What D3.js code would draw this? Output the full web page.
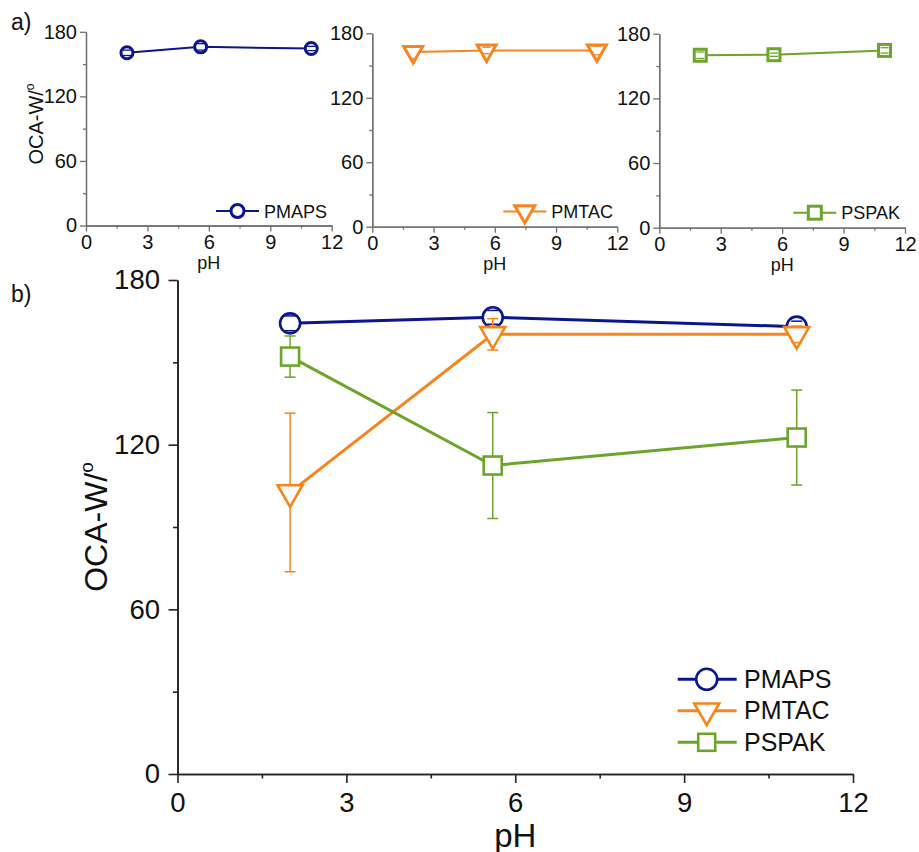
<!DOCTYPE html>
<html>
<head>
<meta charset="utf-8">
<script src="https://cdn.jsdelivr.net/npm/d3@7"></script>
<style>
  html, body { margin: 0; padding: 0; background: #fff; }
  svg { display: block; font-family: "Liberation Sans", Arial, sans-serif; }
</style>
</head>
<body>
<svg id="chart" width="919" height="852"></svg>
<script>
// ---- data ----
const pH = [2, 5.6, 11];
const seriesNames = ["PMAPS", "PMTAC", "PSPAK"];
const seriesColors = ["#0c168c", "#f7841e", "#6ca42c"];
const seriesSymbols = ["circle", "triangle", "square"];

// panel a) single-polymer measurements
const pmapsA = [160.5, 166, 164.5];
const pmapsAErr = [2.5, 3, 2];
const pmtacA = [162.5, 164, 164];
const pmtacAErr = [6, 3, 4];
const pspakA = [160, 160.5, 164.5];
const pspakAErr = [3, 1.5, 2.5];

// panel b) combined comparison
const pmapsB = [164.2, 166.4, 163.0];
const pmapsBErr = [2.7, 2.5, 2];
const pmtacB = [102.6, 160.2, 160.2];
const pmtacBErr = [28.9, 5.7, 3];
const pspakB = [152.1, 112.4, 122.6];
const pspakBErr = [7.5, 19.3, 17.3];

const xTicks = [0, 3, 6, 9, 12];
const xMinorTicks = [1.5, 4.5, 7.5, 10.5];
const yTicks = [0, 60, 120, 180];
const yMinorTicks = [30, 90, 150];

const svg = d3.select("#chart");
const FONT = "'Liberation Sans', Arial, sans-serif";

// draw one marker symbol centred on (cx, cy)
function marker(g, type, cx, cy, size, color, sw) {
  if (type === "circle") {
    g.append("circle").attr("cx", cx).attr("cy", cy).attr("r", size / 2)
      .attr("fill", "#fff").attr("stroke", color).attr("stroke-width", sw);
  } else if (type === "square") {
    g.append("rect").attr("x", cx - size / 2).attr("y", cy - size / 2)
      .attr("width", size).attr("height", size)
      .attr("fill", "#fff").attr("stroke", color).attr("stroke-width", sw);
  } else {
    // downward triangle with centroid at the data point
    const w = size, h = size * 0.866;
    const pts = [[cx - w / 2, cy - h / 3], [cx + w / 2, cy - h / 3], [cx, cy + 2 * h / 3]];
    g.append("polygon").attr("points", pts.map(p => p.join(",")).join(" "))
      .attr("fill", "#fff").attr("stroke", color).attr("stroke-width", sw)
      .attr("stroke-linejoin", "miter");
  }
}

// axes with major + minor ticks
function drawAxes(g, x, y, o) {
  const xa = g.append("g").attr("transform", `translate(0,${y.range()[0]})`)
    .call(d3.axisBottom(x).tickValues(xTicks).tickSize(o.major).tickSizeOuter(0)
      .tickPadding(o.xPad));
  const xm = g.append("g").attr("transform", `translate(0,${y.range()[0]})`)
    .call(d3.axisBottom(x).tickValues(xMinorTicks).tickSize(o.minor).tickSizeOuter(0)
      .tickFormat(""));
  const ya = g.append("g").attr("transform", `translate(${x.range()[0]},0)`)
    .call(d3.axisLeft(y).tickValues(yTicks).tickSize(o.major).tickSizeOuter(0)
      .tickPadding(o.yPad));
  const ym = g.append("g").attr("transform", `translate(${x.range()[0]},0)`)
    .call(d3.axisLeft(y).tickValues(yMinorTicks).tickSize(o.minor).tickSizeOuter(0)
      .tickFormat(""));
  [xa, xm, ya, ym].forEach(a => {
    a.selectAll("path, line").attr("stroke", o.axisColor).attr("stroke-width", o.axisWidth);
    a.selectAll("text").attr("font-family", FONT).attr("font-size", o.tickFont).attr("fill", "#111");
  });
}

// a series: connecting line, error bars, markers
function drawSeries(g, x, y, vals, errs, color, type, o) {
  const line = d3.line().x((d, i) => x(pH[i])).y(d => y(d));
  g.append("path").datum(vals).attr("d", line)
    .attr("fill", "none").attr("stroke", color).attr("stroke-width", o.lineWidth);
  const eb = g.append("g");
  vals.forEach((v, i) => {
    eb.append("line").attr("x1", x(pH[i])).attr("x2", x(pH[i]))
      .attr("y1", y(v + errs[i])).attr("y2", y(v - errs[i]))
      .attr("stroke", color).attr("stroke-width", o.errWidth);
  });
  vals.forEach((v, i) => marker(g, type, x(pH[i]), y(v), o.size[type], color, o.markerWidth));
  const caps = g.append("g");
  vals.forEach((v, i) => {
    [v + errs[i], v - errs[i]].forEach(e => {
      caps.append("line").attr("x1", x(pH[i]) - o.cap / 2).attr("x2", x(pH[i]) + o.cap / 2)
        .attr("y1", y(e)).attr("y2", y(e))
        .attr("stroke", color).attr("stroke-width", o.errWidth);
    });
  });
}

// ---- panel a) three small charts ----
const smallOpts = {
  major: 6, minor: 3, xPad: 3, yPad: 3, axisColor: "#707070", axisWidth: 1.3, tickFont: 20,
  lineWidth: 2, errWidth: 1.3, markerWidth: 3, cap: 8,
  size: { circle: 12, triangle: 19, square: 12 }
};
const panels = [
  { x0: 86, x1: 331.7, y0: 225.5, y1: 31.8, vals: pmapsA, errs: pmapsAErr, legX: 216, legY: 211 },
  { x0: 372.3, x1: 617.3, y0: 226.7, y1: 33.3, vals: pmtacA, errs: pmtacAErr, legX: 503.3, legY: 211.5 },
  { x0: 659.3, x1: 905, y0: 227.7, y1: 33.7, vals: pspakA, errs: pspakAErr, legX: 793.3, legY: 212.7 }
];
panels.forEach((p, k) => {
  const g = svg.append("g");
  const x = d3.scaleLinear().domain([0, 12]).range([p.x0, p.x1]);
  const y = d3.scaleLinear().domain([0, 180]).range([p.y0, p.y1]);
  drawAxes(g, x, y, smallOpts);
  drawSeries(g, x, y, p.vals, p.errs, seriesColors[k], seriesSymbols[k], smallOpts);
  g.append("text").attr("x", (p.x0 + p.x1) / 2).attr("y", p.y0 + 43)
    .attr("text-anchor", "middle").attr("font-family", FONT).attr("font-size", 18)
    .attr("fill", "#111").text("pH");
  // legend
  const lg = g.append("g");
  lg.append("line").attr("x1", p.legX).attr("x2", p.legX + 43)
    .attr("y1", p.legY).attr("y2", p.legY)
    .attr("stroke", seriesColors[k]).attr("stroke-width", 2);
  marker(lg, seriesSymbols[k], p.legX + 21.5, p.legY, smallOpts.size[seriesSymbols[k]] + 1, seriesColors[k], 3);
  lg.append("text").attr("x", p.legX + 48).attr("y", p.legY + 6.5)
    .attr("font-family", FONT).attr("font-size", 18).attr("fill", "#111")
    .text(seriesNames[k]);
});
// y title for panel a)
const ytA = svg.append("text").attr("transform", "translate(43,124) rotate(-90)")
  .attr("text-anchor", "middle").attr("font-family", FONT).attr("font-size", 20).attr("fill", "#111");
ytA.append("tspan").text("OCA-W/");
ytA.append("tspan").attr("font-size", 12).attr("dy", -9).text("o");

svg.append("text").attr("x", 11).attr("y", 30).attr("font-family", FONT)
  .attr("font-size", 23).attr("fill", "#111").text("a)");

// ---- panel b) combined chart ----
const bigOpts = {
  major: 9, minor: 4.5, xPad: 9.5, yPad: 8.5, axisColor: "#222", axisWidth: 1.6, tickFont: 27.5,
  lineWidth: 3, errWidth: 1.5, markerWidth: 2.6, cap: 11,
  size: { circle: 20, triangle: 25, square: 18 }
};
const gB = svg.append("g");
const xB = d3.scaleLinear().domain([0, 12]).range([177.5, 853]);
const yB = d3.scaleLinear().domain([0, 180]).range([774, 280]);
drawAxes(gB, xB, yB, bigOpts);
const bVals = [pmapsB, pmtacB, pspakB];
const bErrs = [pmapsBErr, pmtacBErr, pspakBErr];
bVals.forEach((v, k) => drawSeries(gB, xB, yB, v, bErrs[k], seriesColors[k], seriesSymbols[k], bigOpts));

gB.append("text").attr("x", (177.5 + 853) / 2).attr("y", 846.5)
  .attr("text-anchor", "middle").attr("font-family", FONT).attr("font-size", 33)
  .attr("fill", "#111").text("pH");
const ytB = gB.append("text").attr("transform", "translate(107,527) rotate(-90)")
  .attr("text-anchor", "middle").attr("font-family", FONT).attr("font-size", 32).attr("fill", "#111");
ytB.append("tspan").text("OCA-W/");
ytB.append("tspan").attr("font-size", 19).attr("dy", -14).text("o");

svg.append("text").attr("x", 11).attr("y", 302).attr("font-family", FONT)
  .attr("font-size", 23).attr("fill", "#111").text("b)");

// legend for panel b)
const legRows = [679.3, 710.7, 742.3];
const legB = gB.append("g");
seriesNames.forEach((name, k) => {
  const ly = legRows[k];
  legB.append("line").attr("x1", 677.7).attr("x2", 736.7).attr("y1", ly).attr("y2", ly)
    .attr("stroke", seriesColors[k]).attr("stroke-width", 3);
  const sz = { circle: 21, triangle: 25, square: 17 }[seriesSymbols[k]];
  marker(legB, seriesSymbols[k], 706.7, ly, sz, seriesColors[k], 2.6);
  legB.append("text").attr("x", 744).attr("y", ly + 8.5)
    .attr("font-family", FONT).attr("font-size", 25).attr("fill", "#111").text(name);
});
</script>
</body>
</html>
